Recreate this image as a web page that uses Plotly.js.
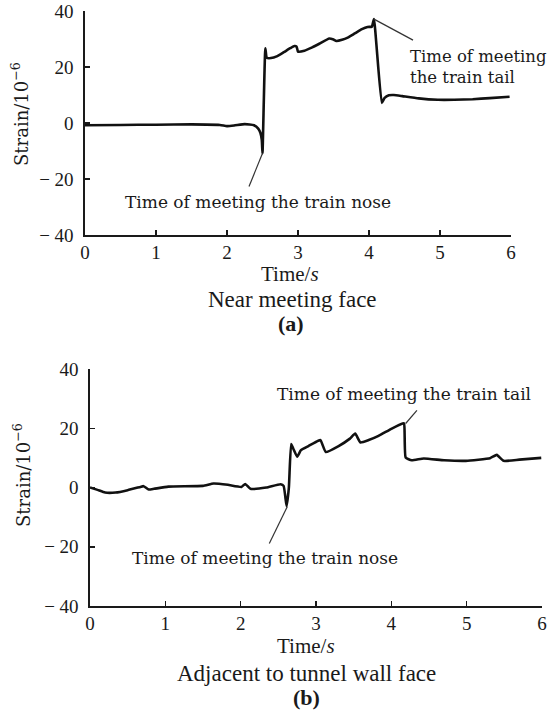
<!DOCTYPE html>
<html>
<head>
<meta charset="utf-8">
<script src="https://cdn.plot.ly/plotly-3.0.1.min.js"></script>
<style>html,body{margin:0;padding:0;background:#fff;}#chart{width:549px;height:719px;}</style>
</head>
<body>
<div id="chart"></div>
<script>
// Panel (a): Near meeting face
const timeA = [0, 0.5, 1.0, 1.5, 1.9, 2.0, 2.1, 2.25, 2.38, 2.44, 2.47, 2.49, 2.50, 2.54, 2.56, 2.62, 2.70, 2.80, 2.89, 2.95, 2.98, 3.00, 3.09, 3.20, 3.30, 3.44, 3.50, 3.54, 3.62, 3.70, 3.80, 3.90, 3.98, 4.04, 4.07, 4.18, 4.22, 4.28, 4.35, 4.47, 4.70, 4.97, 5.20, 5.46, 5.70, 5.98];
const strainA = [-0.8, -0.7, -0.6, -0.5, -0.7, -1.1, -0.9, -0.4, -0.8, -2.0, -3.5, -6.0, -10.8, 26.7, 23.3, 23.2, 23.8, 25.3, 26.7, 27.5, 27.3, 25.5, 25.8, 27.0, 28.3, 30.2, 29.8, 29.3, 29.7, 30.5, 32.0, 33.5, 34.3, 34.4, 37.1, 7.2, 9.0, 9.9, 10.0, 9.6, 8.8, 8.3, 8.3, 8.5, 8.9, 9.4];

// Panel (b): Adjacent to tunnel wall face
const timeB = [0, 0.1, 0.2, 0.34, 0.5, 0.67, 0.71, 0.78, 0.85, 1.04, 1.5, 1.64, 1.83, 2.01, 2.06, 2.13, 2.34, 2.53, 2.57, 2.61, 2.64, 2.67, 2.70, 2.75, 2.80, 2.90, 3.03, 3.06, 3.13, 3.30, 3.45, 3.52, 3.59, 3.70, 3.83, 4.00, 4.15, 4.17, 4.19, 4.27, 4.43, 4.70, 4.99, 5.31, 5.40, 5.49, 5.70, 5.99];
const strainB = [0, -0.8, -1.7, -1.7, -0.9, 0.2, 0.45, -0.7, -0.45, 0.3, 0.55, 1.35, 0.9, 0.2, 1.2, -0.45, 0, 1.1, 0.55, -6.3, 0, 14.7, 13.0, 10.4, 12.6, 14.0, 15.8, 16.0, 12.0, 14.0, 16.5, 18.2, 15.2, 16.0, 17.4, 19.8, 21.6, 21.6, 10.1, 9.2, 9.8, 9.2, 9.0, 9.9, 11.0, 9.0, 9.4, 10.0];

const xTicks = [0, 1, 2, 3, 4, 5, 6];
const yTicks = [-40, -20, 0, 20, 40];
const yTickText = ['\u2212 40', '\u2212 20', '0', '20', '40'];
const xTitle = 'Time/<i>s</i>';
const yTitle = 'Strain/10<sup>\u22126</sup>';

// Leader lines for the callouts (time, strain): from the curve out toward the label
const leaderNoseA_t = [2.50, 2.31], leaderNoseA_s = [-10.8, -22.7];
const leaderTailA_t = [4.07, 4.62], leaderTailA_s = [37.1, 29.6];
const leaderNoseB_t = [2.62, 2.38], leaderNoseB_s = [-6.4, -18.9];
const leaderTailB_t = [4.19, 4.34], leaderTailB_s = [21.6, 26.0];
// Label anchor positions (time, strain)
const labelPosA = { nose: [2.43, -28.1], tail: [4.55, 20.0] };
const labelPosB = { nose: [2.32, -23.7], tail: [4.17, 31.6] };

const W = 549, H = 719;
const serif = 'Liberation Serif';
const annFont = 'DejaVu Serif';
const ink = '#1a1a1a';

function axisX(domain, anchor) {
  return {
    domain: domain, anchor: anchor, range: [0, 6], tickvals: xTicks,
    ticks: 'inside', ticklen: 5, tickwidth: 1.5, tickcolor: ink,
    showline: true, linewidth: 1.6, linecolor: ink, showgrid: false, zeroline: false,
    tickfont: { family: serif, size: 19, color: ink }, ticklabelstandoff: 0,
    automargin: false, fixedrange: true
  };
}
function axisY(domain, anchor) {
  return {
    domain: domain, anchor: anchor, range: [-40, 40], tickvals: yTicks, ticktext: yTickText,
    ticks: 'inside', ticklen: 5, tickwidth: 1.5, tickcolor: ink,
    showline: true, linewidth: 1.6, linecolor: ink, showgrid: false, zeroline: false,
    tickfont: { family: serif, size: 19, color: ink }, ticklabelstandoff: 6,
    automargin: false, fixedrange: true
  };
}

function curve(x, y, xa, ya) {
  return { x: x, y: y, xaxis: xa, yaxis: ya, mode: 'lines',
    line: { color: '#111', width: 2.6, shape: 'spline', smoothing: 0.4 }, hoverinfo: 'skip' };
}
function leader(x, y, xa, ya) {
  return { x: x, y: y, xaxis: xa, yaxis: ya, mode: 'lines', cliponaxis: false,
    line: { color: '#333', width: 1.2 }, hoverinfo: 'skip' };
}

const traces = [
  curve(timeA, strainA, 'x', 'y'),
  curve(timeB, strainB, 'x2', 'y2'),
  leader(leaderNoseA_t, leaderNoseA_s, 'x', 'y'),
  leader(leaderTailA_t, leaderTailA_s, 'x', 'y'),
  leader(leaderNoseB_t, leaderNoseB_s, 'x2', 'y2'),
  leader(leaderTailB_t, leaderTailB_s, 'x2', 'y2')
];

function label(p, txt, xr, yr, xanchor, align, size) {
  return { x: p[0], y: p[1], xref: xr, yref: yr, text: txt, showarrow: false,
    xanchor: xanchor, yanchor: 'middle', align: align,
    font: { family: annFont, size: size || 17, color: ink } };
}
function paperText(px, py, txt, size, fam, angle) {
  return { x: px / W, y: 1 - py / H, xref: 'paper', yref: 'paper', text: txt, showarrow: false,
    xanchor: 'center', yanchor: 'middle', textangle: angle || 0,
    font: { family: fam, size: size, color: ink } };
}

const annotations = [
  label(labelPosA.nose, 'Time of meeting the train nose', 'x', 'y', 'center', 'center'),
  label(labelPosA.tail, 'Time of meeting<br>the train tail', 'x', 'y', 'left', 'left', 16.5),
  label(labelPosB.nose, 'Time of meeting the train nose', 'x2', 'y2', 'center', 'center'),
  label(labelPosB.tail, 'Time of meeting the train tail', 'x2', 'y2', 'center', 'center'),
  paperText(290, 274, xTitle, 21, serif),
  paperText(292, 299, 'Near meeting face', 23, serif),
  paperText(291, 323, '<b>(a)</b>', 22, serif),
  paperText(20, 114, yTitle, 18, annFont, -90),
  paperText(306, 646, xTitle, 21, serif),
  paperText(306, 673, 'Adjacent to tunnel wall face', 23, serif),
  paperText(306, 697, '<b>(b)</b>', 22, serif),
  paperText(22, 475, yTitle, 18, annFont, -90)
];

const layout = {
  width: W, height: H,
  margin: { l: 0, r: 0, t: 0, b: 0 },
  paper_bgcolor: '#fff', plot_bgcolor: '#fff',
  showlegend: false,
  xaxis: axisX([85 / W, 511 / W], 'y'),
  yaxis: axisY([1 - 235 / H, 1 - 11 / H], 'x'),
  xaxis2: axisX([90 / W, 542 / W], 'y2'),
  yaxis2: axisY([1 - 606 / H, 1 - 369 / H], 'x2'),
  annotations: annotations
};

Plotly.newPlot('chart', traces, layout, { displayModeBar: false, staticPlot: true });
</script>
</body>
</html>
